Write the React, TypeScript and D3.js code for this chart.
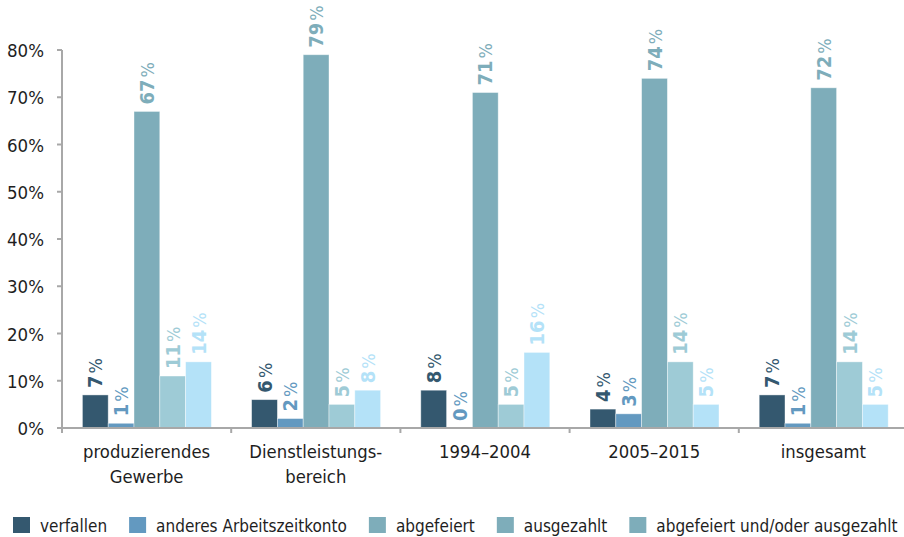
import React, { useEffect, useRef } from "react";
import * as d3 from "d3";

const categories = [
  ["produzierendes", "Gewerbe"],
  ["Dienstleistungs-", "bereich"],
  ["1994–2004"],
  ["2005–2015"],
  ["insgesamt"],
];
const seriesNames = [
  "verfallen",
  "anderes Arbeitszeitkonto",
  "abgefeiert",
  "ausgezahlt",
  "abgefeiert und/oder ausgezahlt",
];
const verfallen = [7, 6, 8, 4, 7];
const anderesKonto = [1, 2, 0, 3, 1];
const abgefeiert = [67, 79, 71, 74, 72];
const ausgezahlt = [11, 5, 5, 14, 14];
const abgefeiertOderAusgezahlt = [14, 8, 16, 5, 5];
const seriesValues = [verfallen, anderesKonto, abgefeiert, ausgezahlt, abgefeiertOderAusgezahlt];
const barColors = ["#34586f", "#6399c0", "#7eadba", "#9ecbd6", "#b4e2f8"];
const legendColors = ["#34586f", "#6399c0", "#7eadba", "#7eadba", "#7eadba"];
const yTicks = [0, 10, 20, 30, 40, 50, 60, 70, 80];

const FONT = "'DejaVu Sans Condensed', 'DejaVu Sans', sans-serif";

export default function App() {
  const ref = useRef<SVGSVGElement>(null);
  useEffect(() => {
    const svg = d3.select(ref.current);
    svg.selectAll("*").remove();
    const W = 904;
    const x0 = 62, yBase = 428, yTop = 50;
    const keys = categories.map((c) => c.join(" "));
    const x = d3.scaleBand<string>().domain(keys).range([x0, x0 + 5 * 169.2]).paddingInner(0).paddingOuter(0);
    const xs = d3.scaleBand<number>().domain(d3.range(5)).range([20.4, 149.4]);
    const y = d3.scaleLinear().domain([0, 80]).range([yBase, yTop]);
    const g = svg.append("g").attr("font-family", FONT).attr("font-stretch", "condensed");

    // bars
    keys.forEach((k, ci) => {
      seriesValues.forEach((vals, si) => {
        const v = vals[ci];
        const bx = (x(k) as number) + (xs(si) as number);
        g.append("rect")
          .attr("x", bx)
          .attr("y", y(v))
          .attr("width", xs.bandwidth())
          .attr("height", yBase - y(v))
          .attr("fill", barColors[si])
          .attr("stroke", "#ffffff")
          .attr("stroke-opacity", 0.5)
          .attr("stroke-width", 0.8);
        const cx = bx + xs.bandwidth() / 2;
        const t = g.append("text")
          .attr("transform", `translate(${cx + 7},${y(v) - 7}) rotate(-90)`)
          .attr("fill", barColors[si])
          .attr("font-size", 20);
        t.append("tspan").attr("font-weight", "bold").text(String(v));
        t.append("tspan").attr("dx", 2).attr("font-size", 18).text("%");
      });
    });

    // axes
    const axisColor = "#a8a8a8";
    g.append("line").attr("x1", x0).attr("x2", W).attr("y1", yBase).attr("y2", yBase)
      .attr("stroke", axisColor).attr("stroke-width", 2);
    g.append("line").attr("x1", x0).attr("x2", x0).attr("y1", yTop).attr("y2", yBase + 5)
      .attr("stroke", axisColor).attr("stroke-width", 2);
    yTicks.forEach((t) => {
      g.append("line").attr("x1", x0 - 5).attr("x2", x0).attr("y1", y(t)).attr("y2", y(t))
        .attr("stroke", axisColor).attr("stroke-width", 2);
      g.append("text").attr("x", 44).attr("y", y(t) + 7).attr("text-anchor", "end")
        .attr("font-size", 18.5).attr("fill", "#1e1e1e").text(`${t}%`);
    });
    keys.forEach((k, i) => {
      if (i > 0) {
        g.append("line").attr("x1", x(k) as number).attr("x2", x(k) as number)
          .attr("y1", yBase).attr("y2", yBase + 5).attr("stroke", axisColor).attr("stroke-width", 2);
      }
      const cx = (x(k) as number) + x.bandwidth() / 2;
      categories[i].forEach((line, li) => {
        g.append("text").attr("x", cx).attr("y", 458 + li * 25).attr("text-anchor", "middle")
          .attr("font-size", 18.3).attr("fill", "#1e1e1e").text(line);
      });
    });

    // legend
    let lx = 13;
    seriesNames.forEach((name, i) => {
      g.append("rect").attr("x", lx).attr("y", 517).attr("width", 17).attr("height", 16).attr("fill", legendColors[i]);
      const t = g.append("text").attr("x", lx + 27).attr("y", 532).attr("font-size", 17)
        .attr("fill", "#1e1e1e").text(name);
      const w = (t.node() as SVGTextElement).getComputedTextLength();
      lx = lx + 27 + w + 22;
    });
  }, []);
  return (
    <svg ref={ref} width={904} height={537} style={{ position: "absolute", left: 0, top: 0 }} />
  );
}
